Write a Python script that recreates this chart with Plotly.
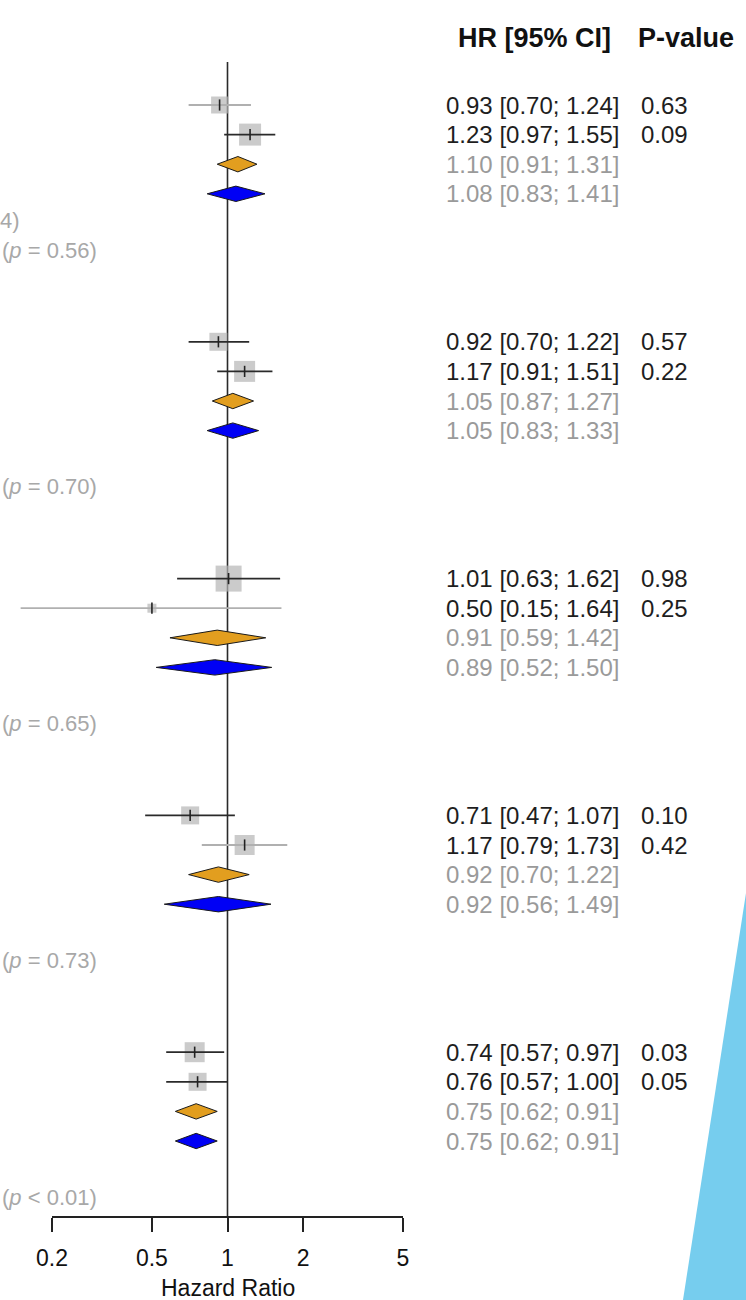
import math
import plotly.graph_objects as go

# ---------------- data ----------------
study_hr = [[0.93, 1.23], [0.92, 1.17], [1.01, 0.50], [0.71, 1.17], [0.74, 0.76]]
study_lo = [[0.70, 0.97], [0.70, 0.91], [0.63, 0.15], [0.47, 0.79], [0.57, 0.57]]
study_hi = [[1.24, 1.55], [1.22, 1.51], [1.62, 1.64], [1.07, 1.73], [0.97, 1.00]]
study_p = [["0.63", "0.09"], ["0.57", "0.22"], ["0.98", "0.25"], ["0.10", "0.42"], ["0.03", "0.05"]]
study_weight = [[17, 22], [18, 21], [26, 9], [18, 20], [20, 18]]
study_ci_dark = [[False, True], [True, True], [True, False], [True, False], [True, True]]

fixed_hr = [1.10, 1.05, 0.91, 0.92, 0.75]
fixed_lo = [0.91, 0.87, 0.59, 0.70, 0.62]
fixed_hi = [1.31, 1.27, 1.42, 1.22, 0.91]

random_hr = [1.08, 1.05, 0.89, 0.92, 0.75]
random_lo = [0.83, 0.83, 0.52, 0.56, 0.62]
random_hi = [1.41, 1.33, 1.50, 1.49, 0.91]

subgroup_text = ["(<i>p</i> = 0.56)", "(<i>p</i> = 0.70)", "(<i>p</i> = 0.65)",
                 "(<i>p</i> = 0.73)", "(<i>p</i> &lt; 0.01)"]
extra_text = ["4)", "", "", "", ""]

tick_vals = [0.2, 0.5, 1, 2, 5]
tick_text = ["0.2", "0.5", "1", "2", "5"]
x_title = "Hazard Ratio"
header_hr = "<b>HR [95% CI]</b>"
header_p = "<b>P-value</b>"

# ---------------- layout constants ----------------
W, H = 746, 1300
X_LEFT_PX, X_RIGHT_PX = 52, 403
ROW0_PX, ROW_PX, AXIS_PX = 105, 29.6, 1216
ROWS_PER_GROUP = 8
FONT = "Liberation Sans, Arial, sans-serif"
DARK = "#1e1e1e"
GRAY_TXT = "#9a9a9a"
LIGHT_TXT = "#a8a8a8"
ORANGE = "#E29E1F"
BLUE = "#0000F5"
SQUARE = "#b5b5b5"
CYAN = "#76CDEE"
DIAMOND_HALF = 0.26

lmin, lmax = math.log10(min(tick_vals)), math.log10(max(tick_vals))
px_per_dec = (X_RIGHT_PX - X_LEFT_PX) / (lmax - lmin)
x2_range = [lmin - X_LEFT_PX / px_per_dec, lmin + (W - X_LEFT_PX) / px_per_dec]
y_range = [(AXIS_PX - ROW0_PX) / ROW_PX, -ROW0_PX / ROW_PX]


def px_to_paper_x(px):
    return px / W


def px_to_paper_y(py):
    return 1 - py / H


def px_to_row(py):
    return (py - ROW0_PX) / ROW_PX


fig = go.Figure()

# reference line at HR = 1 (on the visible axis so that it is drawn)
fig.add_trace(go.Scatter(x=[1, 1], y=[px_to_row(62), y_range[0]], mode="lines",
                         line=dict(color="#2a2a2a", width=1.6), xaxis="x", yaxis="y",
                         hoverinfo="skip", showlegend=False))

# squares
sx, sy, ss = [], [], []
for g in range(5):
    for k in range(2):
        sx.append(study_hr[g][k])
        sy.append(g * ROWS_PER_GROUP + k)
        ss.append(study_weight[g][k])
fig.add_trace(go.Scatter(x=sx, y=sy, mode="markers", xaxis="x2", yaxis="y",
                         marker=dict(symbol="square", size=ss, color=SQUARE, line=dict(width=0)),
                         cliponaxis=False, showlegend=False, hoverinfo="skip"))

# CI lines
for dark in (True, False):
    lx, ly = [], []
    for g in range(5):
        for k in range(2):
            if study_ci_dark[g][k] == dark:
                r = g * ROWS_PER_GROUP + k
                lx += [study_lo[g][k], study_hi[g][k], None]
                ly += [r, r, None]
    fig.add_trace(go.Scatter(x=lx, y=ly, mode="lines", xaxis="x2", yaxis="y",
                             line=dict(color="#2a2a2a" if dark else "#b0b0b0", width=1.8),
                             showlegend=False, hoverinfo="skip"))

# estimate ticks
fig.add_trace(go.Scatter(x=sx, y=sy, mode="markers", xaxis="x2", yaxis="y",
                         marker=dict(symbol="line-ns-open", size=8, color="#222",
                                     line=dict(color="#222", width=1.6)),
                         showlegend=False, hoverinfo="skip"))

# diamonds
for g in range(5):
    for hr, lo, hi, off, col in ((fixed_hr[g], fixed_lo[g], fixed_hi[g], 2, ORANGE),
                                 (random_hr[g], random_lo[g], random_hi[g], 3, BLUE)):
        r = g * ROWS_PER_GROUP + off
        fig.add_trace(go.Scatter(x=[lo, hr, hi, hr, lo], y=[r, r - DIAMOND_HALF, r, r + DIAMOND_HALF, r],
                                 mode="lines", fill="toself", fillcolor=col,
                                 line=dict(color="#1a1a1a", width=1), xaxis="x2", yaxis="y",
                                 showlegend=False, hoverinfo="skip"))

ann = []
TXT_X = px_to_paper_x(444)
P_X = px_to_paper_x(639)
for g in range(5):
    base = g * ROWS_PER_GROUP
    for k in range(2):
        ann.append(dict(x=TXT_X, xref="paper", y=base + k, yref="y", xanchor="left", yanchor="middle",
                        text=f"{study_hr[g][k]:.2f} [{study_lo[g][k]:.2f}; {study_hi[g][k]:.2f}]",
                        showarrow=False, font=dict(family=FONT, size=24, color=DARK)))
        ann.append(dict(x=P_X, xref="paper", y=base + k, yref="y", xanchor="left", yanchor="middle",
                        text=study_p[g][k], showarrow=False, font=dict(family=FONT, size=24, color=DARK)))
    for off, hr, lo, hi in ((2, fixed_hr[g], fixed_lo[g], fixed_hi[g]),
                            (3, random_hr[g], random_lo[g], random_hi[g])):
        ann.append(dict(x=TXT_X, xref="paper", y=base + off, yref="y", xanchor="left", yanchor="middle",
                        text=f"{hr:.2f} [{lo:.2f}; {hi:.2f}]",
                        showarrow=False, font=dict(family=FONT, size=24, color=GRAY_TXT)))
    ann.append(dict(x=px_to_paper_x(99), xref="paper", y=base + 4.9, yref="y", xanchor="right",
                    yanchor="middle", text=subgroup_text[g], showarrow=False,
                    font=dict(family=FONT, size=22, color=LIGHT_TXT)))
    if extra_text[g]:
        ann.append(dict(x=px_to_paper_x(22), xref="paper", y=base + 3.9, yref="y", xanchor="right",
                        yanchor="middle", text=extra_text[g], showarrow=False,
                        font=dict(family=FONT, size=22, color=LIGHT_TXT)))

ann.append(dict(x=px_to_paper_x(534), xref="paper", y=px_to_row(38), yref="y", xanchor="center",
                yanchor="middle", text=header_hr, showarrow=False,
                font=dict(family=FONT, size=27, color="#111")))
ann.append(dict(x=px_to_paper_x(686), xref="paper", y=px_to_row(38), yref="y", xanchor="center",
                yanchor="middle", text=header_p, showarrow=False,
                font=dict(family=FONT, size=27, color="#111")))
ann.append(dict(x=px_to_paper_x(228), xref="paper", y=px_to_paper_y(1288), yref="paper",
                xanchor="center", yanchor="middle", text=x_title, showarrow=False,
                font=dict(family=FONT, size=23, color="#111")))

shapes = [dict(type="path", xref="paper", yref="paper", layer="above",
               path=f"M 1 {px_to_paper_y(893)} L {px_to_paper_x(683)} 0 L 1 0 Z",
               fillcolor=CYAN, line=dict(width=0))]

fig.update_layout(
    template="none",
    width=W, height=H, margin=dict(l=0, r=0, t=0, b=0, pad=0, autoexpand=False),
    paper_bgcolor="white", plot_bgcolor="rgba(0,0,0,0)",
    showlegend=False,
    xaxis=dict(domain=[X_LEFT_PX / W, X_RIGHT_PX / W], anchor="y", type="log", automargin=False,
               range=[lmin, lmax], tickvals=tick_vals, ticktext=tick_text,
               showline=True, linecolor="#222", linewidth=1.6,
               ticks="outside", ticklen=14, tickwidth=1.6, tickcolor="#222",
               ticklabelstandoff=7,
               showgrid=False, zeroline=False,
               tickfont=dict(family=FONT, size=23, color="#111")),
    xaxis2=dict(domain=[0, 1], anchor="y", type="log", range=x2_range, automargin=False,
                visible=False, showgrid=False, zeroline=False),
    yaxis=dict(domain=[px_to_paper_y(AXIS_PX), 1], anchor="x", range=y_range, automargin=False,
               visible=False, showgrid=False, zeroline=False),
    annotations=ann, shapes=shapes,
)

fig.write_html("out.html")
